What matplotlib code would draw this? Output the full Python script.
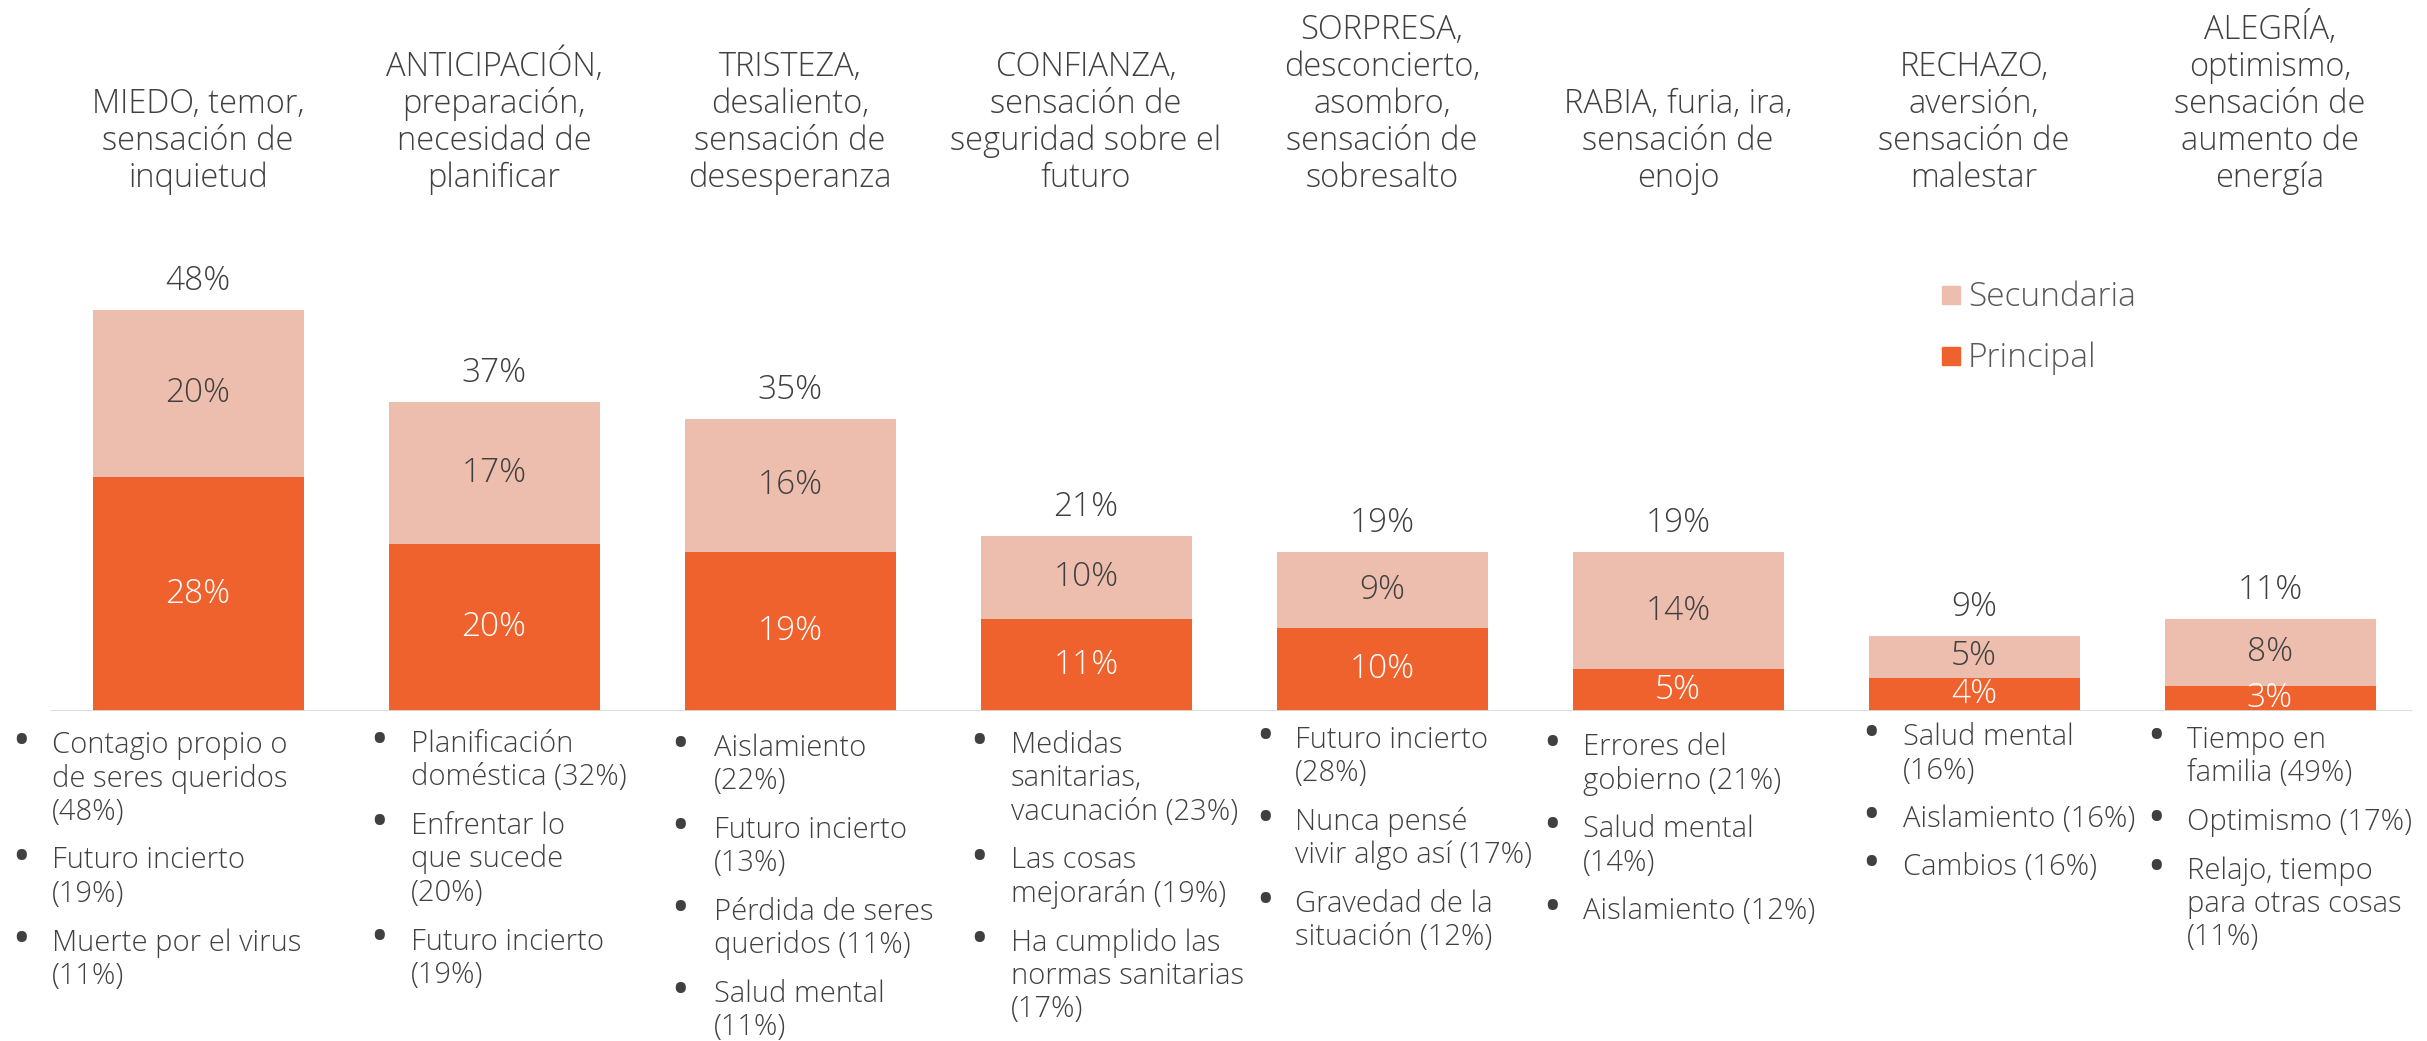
import matplotlib.pyplot as plt
from matplotlib.transforms import blended_transform_factory

W, H = 2427, 1041

categorias = [
    'MIEDO, temor,\nsensación de\ninquietud',
    'ANTICIPACIÓN,\npreparación,\nnecesidad de\nplanificar',
    'TRISTEZA,\ndesaliento,\nsensación de\ndesesperanza',
    'CONFIANZA,\nsensación de\nseguridad sobre el\nfuturo',
    'SORPRESA,\ndesconcierto,\nasombro,\nsensación de\nsobresalto',
    'RABIA, furia, ira,\nsensación de\nenojo',
    'RECHAZO,\naversión,\nsensación de\nmalestar',
    'ALEGRÍA,\noptimismo,\nsensación de\naumento de\nenergía',
]
principal = [28, 20, 19, 11, 10, 5, 4, 3]
secundaria = [20, 17, 16, 10, 9, 14, 5, 8]

# motivos de cada emoción (cada item ya partido en líneas como en el original)
motivos = [
    [['Contagio propio o', 'de seres queridos', '(48%)'], ['Futuro incierto', '(19%)'],
     ['Muerte por el virus', '(11%)']],
    [['Planificación', 'doméstica (32%)'], ['Enfrentar lo', 'que sucede', '(20%)'],
     ['Futuro incierto', '(19%)']],
    [['Aislamiento', '(22%)'], ['Futuro incierto', '(13%)'], ['Pérdida de seres', 'queridos (11%)'],
     ['Salud mental', '(11%)']],
    [['Medidas', 'sanitarias,', 'vacunación (23%)'], ['Las cosas', 'mejorarán (19%)'],
     ['Ha cumplido las', 'normas sanitarias', '(17%)']],
    [['Futuro incierto', '(28%)'], ['Nunca pensé', 'vivir algo así (17%)'],
     ['Gravedad de la', 'situación (12%)']],
    [['Errores del', 'gobierno (21%)'], ['Salud mental', '(14%)'], ['Aislamiento (12%)']],
    [['Salud mental', '(16%)'], ['Aislamiento (16%)'], ['Cambios (16%)']],
    [['Tiempo en', 'familia (49%)'], ['Optimismo (17%)'],
     ['Relajo, tiempo', 'para otras cosas', '(11%)']],
]

col_principal = '#F0622D'
col_secundaria = '#EDBEAD'
gris = '#404040'

plt.rcParams['font.family'] = ['Open Sans', 'DejaVu Sans']
plt.rcParams['font.weight'] = 'light'

fig = plt.figure(figsize=(W / 100, H / 100), dpi=100)
base = 711
ax = fig.add_axes([0, 1 - base / H, 1, base / H])
px_pct = 8.35
ax.set_ylim(0, base / px_pct)
ax.set_xlim(-198 / 296, (W - 198) / 296)
ax.axis('off')

x = list(range(len(categorias)))
ancho = 211 / 296
ax.bar(x, principal, width=ancho, color=col_principal, label='Principal')
ax.bar(x, secundaria, width=ancho, bottom=principal, color=col_secundaria, label='Secundaria')
ax.plot([-0.5, 7.48], [0, 0], color='#D9D9D9', lw=2, solid_capstyle='butt')

for i in x:
    p, s = principal[i], secundaria[i]
    ax.text(i, p / 2, f'{p}%', ha='center', va='center', fontsize=24, color='white')
    ax.text(i, p + s / 2, f'{s}%', ha='center', va='center', fontsize=24, color=gris)
    ax.annotate(f'{p + s}%', (i, p + s), xytext=(0, 20), textcoords='offset pixels',
                ha='center', va='baseline', fontsize=24, color=gris)

# encabezados de cada categoría
tr = blended_transform_factory(ax.transData, fig.transFigure)
for i, cat in enumerate(categorias):
    lineas = cat.split('\n')
    n = len(lineas)
    for j, ln in enumerate(lineas):
        y = 187 - 37 * (n - 1 - j)
        ax.text(i, 1 - y / H, ln, ha='center', va='baseline', fontsize=23.5, color=gris,
                transform=tr)

# leyenda
for nombre, color, yc in [('Secundaria', col_secundaria, 295), ('Principal', col_principal, 356)]:
    fig.patches.append(plt.Rectangle((1942 / W, 1 - (yc + 9) / H), 18 / W, 18 / H,
                                     color=color, transform=fig.transFigure))
    fig.text(1968 / W, 1 - (yc + 11) / H, nombre, ha='left', va='baseline', fontsize=24,
             color='#595959')

# listas de motivos
bullet_x = [21, 379, 680, 979, 1265, 1552, 1871, 2156]
texto_x = [52, 411, 714, 1011, 1295, 1583, 1903, 2187]
inicio_y = [753, 752, 756, 753, 748, 755, 745, 748]
for c in range(len(motivos)):
    y = inicio_y[c]
    for item in motivos[c]:
        fig.text(bullet_x[c] / W, 1 - (y - 1) / H, '•', ha='center', va='baseline', fontsize=26,
                 fontweight='bold', color=gris)
        for k, ln in enumerate(item):
            fig.text(texto_x[c] / W, 1 - y / H, ln, ha='left', va='baseline', fontsize=21,
                     color=gris)
            y += 33.5 if k < len(item) - 1 else 48.5

fig.savefig('out.png', dpi=100, facecolor='white')
